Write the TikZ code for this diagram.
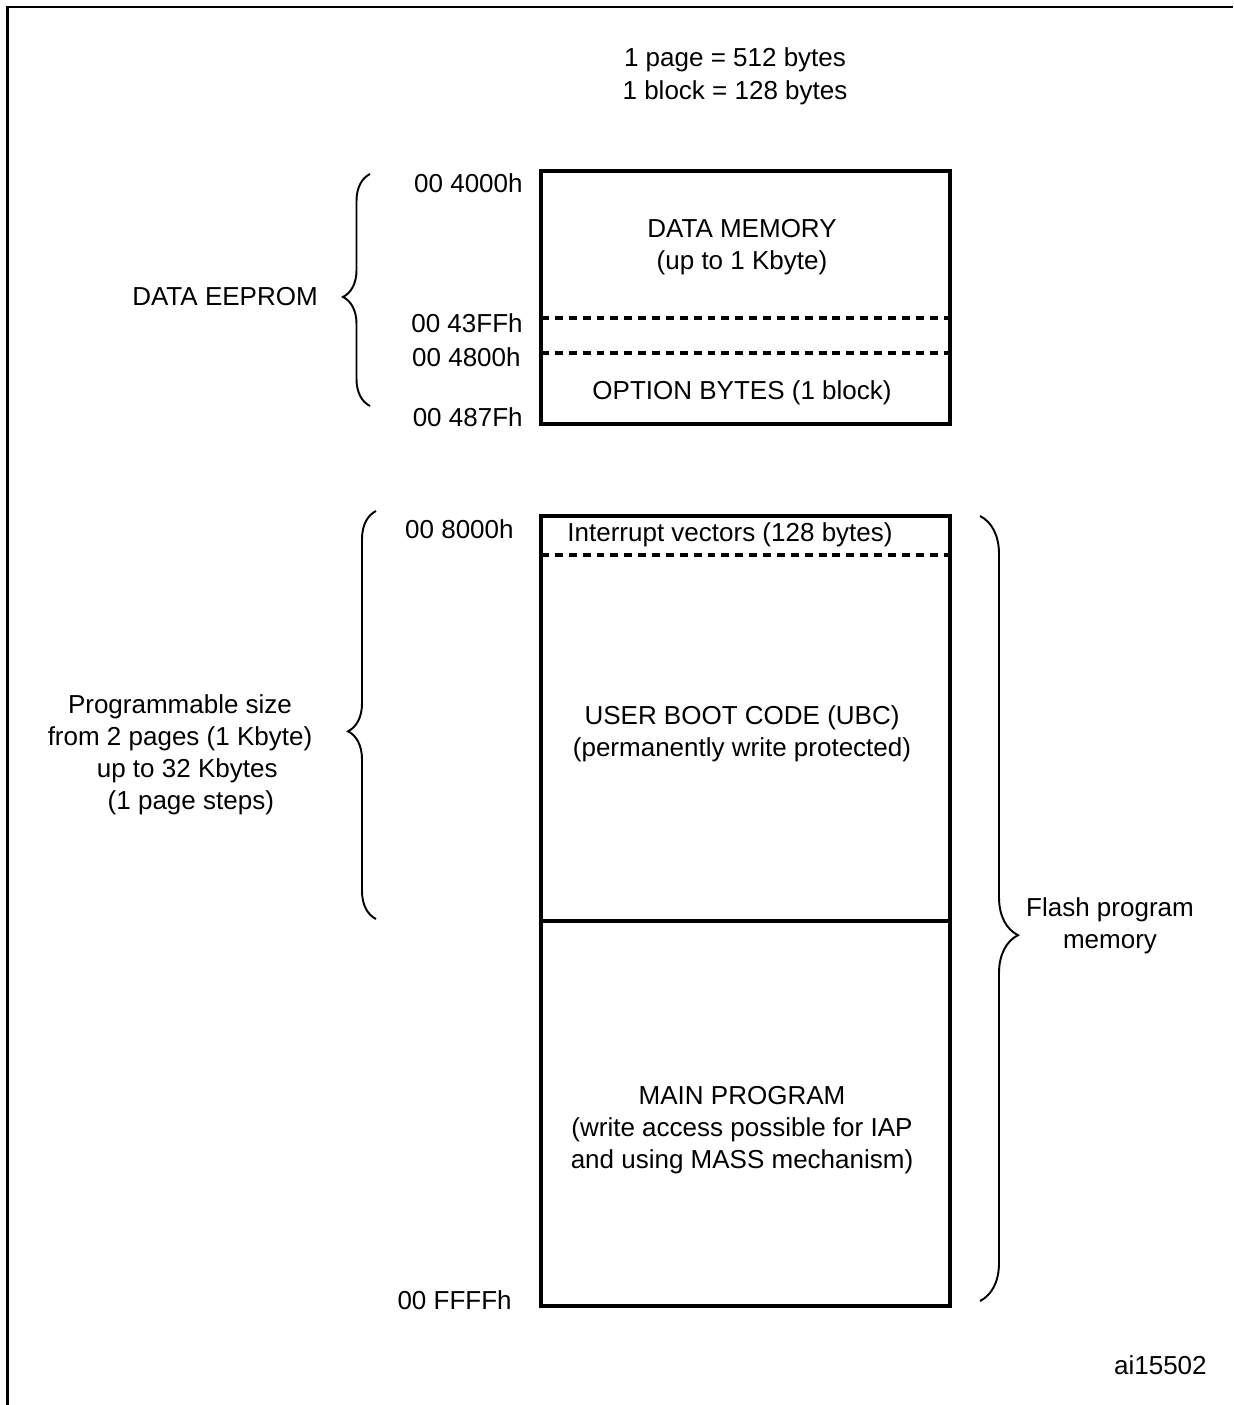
\documentclass[tikz,border=0pt]{standalone}
\usepackage{fontspec}
\setmainfont{Liberation Sans}
\usetikzlibrary{decorations.pathreplacing}

\begin{document}
\begin{tikzpicture}[x=0.02cm,y=-0.02cm,
		every node/.style={font=\fontsize{14.8pt}{18.2pt}\selectfont,inner sep=0pt},
		addr/.style={anchor=east},
		lbl/.style={align=center},
		memline/.style={line width=1.9pt},
		sepline/.style={line width=2.1pt,dash pattern=on 4.5pt off 3.4pt},
		curly/.style={line width=1.1pt,decorate,decoration={brace,amplitude=#1}}]
		\useasboundingbox (0,0) rectangle (1233,1405);
		% frame
		\draw [line width=1.15pt](7.5,1405) -- (7.5,7) -- (1233,7);
		\node (page) at (735,60) {1 page = 512 bytes};
		\node (block) at (735,93) {1 block = 128 bytes};
		% data eeprom
		\draw [memline](541,171) rectangle (950,424);
		\draw [sepline](541,318) -- (950,318);
		\draw [sepline](541,353) -- (950,353);
		\node [lbl] (datamem) at (742,247) {DATA MEMORY\\(up to 1 Kbyte)};
		\node (optbytes) at (742,393) {OPTION BYTES (1 block)};
		\node [addr] (a4000) at (523,183) {00 4000h};
		\node [addr] (a43ff) at (523,323) {00 43FFh};
		\node [addr] (a4800) at (521,357) {00 4800h};
		\node [addr] (a487f) at (523,417) {00 487Fh};
		\draw [curly=0.54cm,decoration={aspect=0.47}](370,406) -- (370,174);
		\node (eeprom) at (225,297) {DATA EEPROM};
		% flash
		\draw [memline](541,516) rectangle (950,1306);
		\draw [sepline](541,555) -- (950,555);
		\draw [memline](541,921) -- (950,921);
		\node (ivec) at (730,535) {Interrupt vectors (128 bytes)};
		\node [lbl] (ubc) at (742,734) {USER BOOT CODE (UBC)\\(permanently write protected)};
		\node [lbl] (mainprog) at (742,1130) {MAIN PROGRAM\\(write access possible for IAP\\and using MASS mechanism)};
		\node [addr] (a8000) at (514,529) {00 8000h};
		\node [addr] (affff) at (512,1300) {00 FFFFh};
		\draw [curly=0.56cm,decoration={aspect=0.46}](376,919) -- (376,511);
		\node [lbl] (ubcsize) at (180,755) {Programmable size\\from 2 pages (1 Kbyte)\\\ \ up to 32 Kbytes\\\ \ \ (1 page steps)};
		\draw [curly=0.76cm,decoration={aspect=0.534}](980,516) -- (980,1301);
		\node [lbl] (flash) at (1110,926) {Flash program\\memory};
		\node [anchor=east] (fig) at (1207,1365) {ai15502};
	\end{tikzpicture}
\end{document}
